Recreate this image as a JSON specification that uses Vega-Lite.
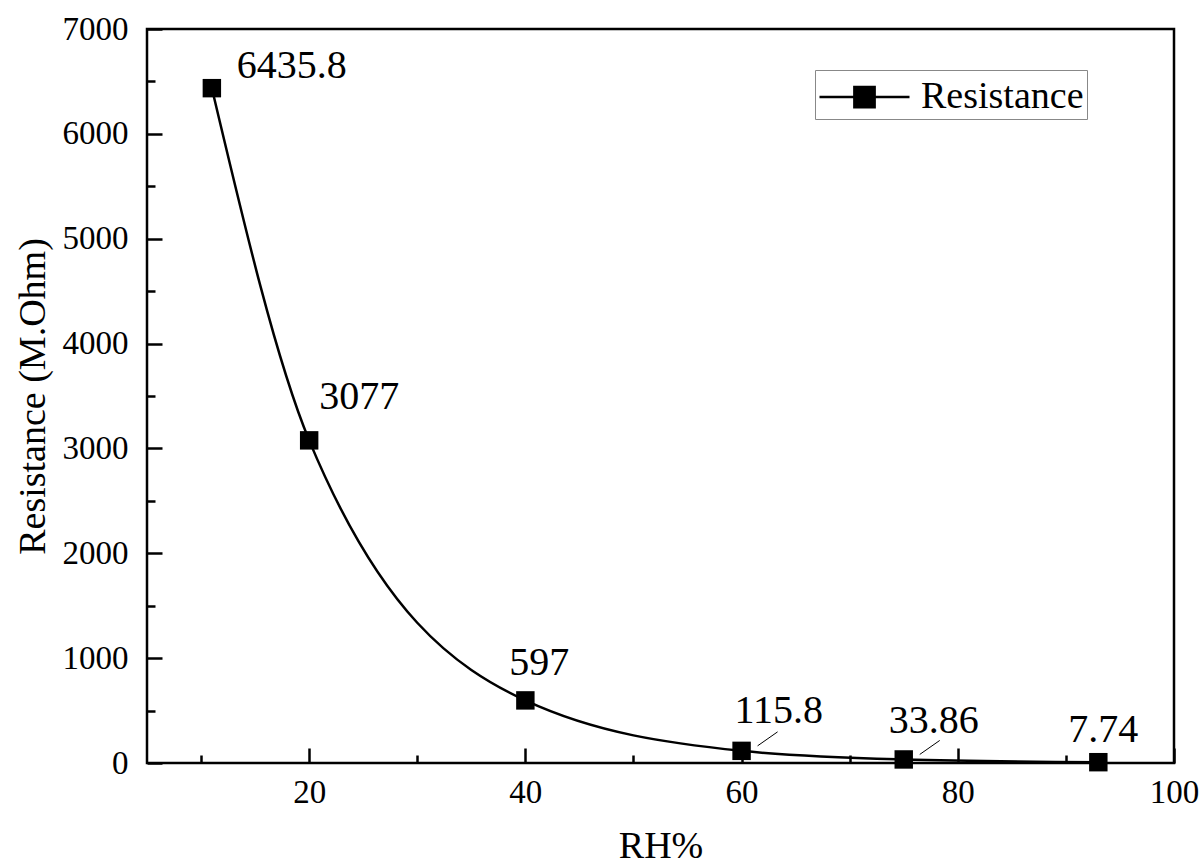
{
  "$schema": "https://vega.github.io/schema/vega-lite/v6.json",
  "width": 1027,
  "height": 734,
  "autosize": "none",
  "padding": {"left": 147, "top": 29, "right": 27, "bottom": 102},
  "background": "white",
  "config": {
    "font": "Times New Roman, Liberation Serif, DejaVu Serif, serif",
    "view": {"stroke": "black", "strokeWidth": 2.5},
    "text": {"font": "Times New Roman, Liberation Serif, DejaVu Serif, serif"},
    "axis": {
      "grid": false,
      "domain": false,
      "tickColor": "black",
      "tickWidth": 2.5,
      "labelColor": "black",
      "labelFont": "Times New Roman, Liberation Serif, DejaVu Serif, serif",
      "labelFontSize": 33,
      "titleFont": "Times New Roman, Liberation Serif, DejaVu Serif, serif",
      "titleFontSize": 38,
      "titleFontWeight": "normal",
      "titleColor": "black"
    },
    "legend": {
      "labelFont": "Times New Roman, Liberation Serif, DejaVu Serif, serif"
    }
  },
  "data": {
    "values": [
      {"RH": 11, "R": 6435.8, "label": "6435.8"},
      {"RH": 20, "R": 3077, "label": "3077"},
      {"RH": 40, "R": 597, "label": "597"},
      {"RH": 60, "R": 115.8, "label": "115.8"},
      {"RH": 75, "R": 33.86, "label": "33.86"},
      {"RH": 93, "R": 7.74, "label": "7.74"}
    ]
  },
  "resolve": {"axis": {"x": "independent", "y": "independent"}},
  "layer": [
    {
      "mark": {"type": "line", "interpolate": "monotone", "strokeWidth": 2.5},
      "encoding": {
        "x": {
          "field": "RH", "type": "quantitative",
          "scale": {"domain": [5, 100], "nice": false, "zero": false},
          "axis": {"orient": "bottom", "values": [20, 40, 60, 80, 100], "format": "d", "tickSize": -15, "labelPadding": 28, "title": "RH%", "titlePadding": 18, "labelFlush": false}
        },
        "y": {
          "field": "R", "type": "quantitative",
          "scale": {"domain": [0, 7000], "nice": false},
          "axis": {"orient": "left", "values": [0, 1000, 2000, 3000, 4000, 5000, 6000, 7000], "format": "d", "tickSize": -15, "labelPadding": 34, "title": "Resistance (M.Ohm)", "titlePadding": 10, "labelFlush": false}
        },
        "stroke": {
          "datum": "Resistance",
          "scale": {"range": ["black"]},
          "legend": {
            "title": null,
            "orient": "none",
            "legendX": 668,
            "legendY": 41,
            "symbolType": "M-1,0H0.55M1.45,0H3M0.55,-0.45H1.45V0.45H0.55Z",
            "symbolSize": 2025,
            "symbolStrokeWidth": 2.5,
            "symbolFillColor": "black",
            "symbolStrokeColor": "black",
            "labelFontSize": 38,
            "labelLimit": 0,
            "labelColor": "black",
            "labelOffset": 55,
            "padding": 3,
            "strokeColor": "#888888",
            "encode": {"symbols": {"update": {"fill": {"value": "black"}, "stroke": {"value": "black"}}}}
          }
        }
      }
    },
    {
      "mark": {"type": "square", "size": 340, "color": "black", "opacity": 1},
      "encoding": {
        "x": {"field": "RH", "type": "quantitative", "axis": {"orient": "bottom", "values": [10, 30, 50, 70, 90], "tickSize": -8, "labels": false, "title": null}},
        "y": {"field": "R", "type": "quantitative", "axis": {"orient": "left", "values": [500, 1500, 2500, 3500, 4500, 5500, 6500], "tickSize": -8, "labels": false, "title": null}}
      }
    },
    {
      "transform": [{"filter": "datum.RH == 11"}],
      "mark": {"type": "text", "align": "left", "baseline": "alphabetic", "dx": 25, "dy": -10, "fontSize": 40, "color": "black"},
      "encoding": {"x": {"field": "RH", "type": "quantitative", "axis": null}, "y": {"field": "R", "type": "quantitative", "axis": null}, "text": {"field": "label"}}
    },
    {
      "transform": [{"filter": "datum.RH == 20"}],
      "mark": {"type": "text", "align": "left", "baseline": "alphabetic", "dx": 10, "dy": -31, "fontSize": 40, "color": "black"},
      "encoding": {"x": {"field": "RH", "type": "quantitative", "axis": null}, "y": {"field": "R", "type": "quantitative", "axis": null}, "text": {"field": "label"}}
    },
    {
      "transform": [{"filter": "datum.RH == 40"}],
      "mark": {"type": "text", "align": "center", "baseline": "alphabetic", "dx": 14, "dy": -25, "fontSize": 40, "color": "black"},
      "encoding": {"x": {"field": "RH", "type": "quantitative", "axis": null}, "y": {"field": "R", "type": "quantitative", "axis": null}, "text": {"field": "label"}}
    },
    {
      "transform": [{"filter": "datum.RH == 60"}],
      "mark": {"type": "text", "align": "left", "baseline": "alphabetic", "dx": -7, "dy": -28, "fontSize": 40, "color": "black"},
      "encoding": {"x": {"field": "RH", "type": "quantitative", "axis": null}, "y": {"field": "R", "type": "quantitative", "axis": null}, "text": {"field": "label"}}
    },
    {
      "transform": [{"filter": "datum.RH == 75"}],
      "mark": {"type": "text", "align": "left", "baseline": "alphabetic", "dx": -15, "dy": -26, "fontSize": 40, "color": "black"},
      "encoding": {"x": {"field": "RH", "type": "quantitative", "axis": null}, "y": {"field": "R", "type": "quantitative", "axis": null}, "text": {"field": "label"}}
    },
    {
      "transform": [{"filter": "datum.RH == 93"}],
      "mark": {"type": "text", "align": "center", "baseline": "alphabetic", "dx": 5, "dy": -20, "fontSize": 40, "color": "black"},
      "encoding": {"x": {"field": "RH", "type": "quantitative", "axis": null}, "y": {"field": "R", "type": "quantitative", "axis": null}, "text": {"field": "label"}}
    },
    {
      "transform": [{"filter": "datum.RH == 60 || datum.RH == 75"}],
      "mark": {"type": "rule", "color": "black", "strokeWidth": 1, "xOffset": 16, "yOffset": -5, "x2Offset": 36, "y2Offset": -19},
      "encoding": {
        "x": {"field": "RH", "type": "quantitative", "axis": null},
        "y": {"field": "R", "type": "quantitative", "axis": null},
        "x2": {"field": "RH"},
        "y2": {"field": "R"}
      }
    }
  ]
}
